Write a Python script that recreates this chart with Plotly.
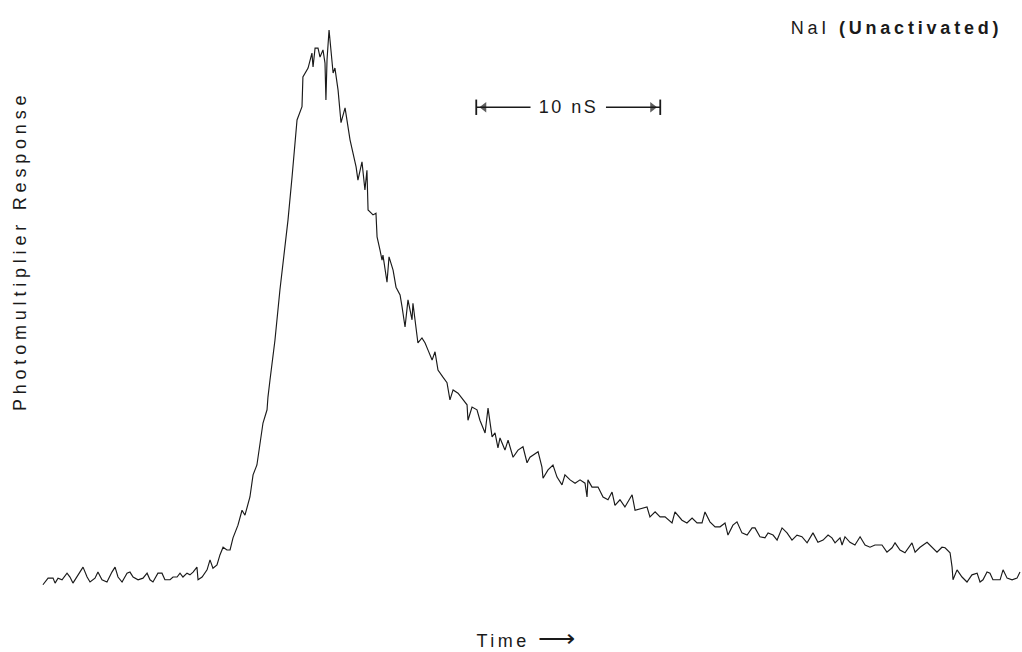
import plotly.graph_objects as go

# Scintillation pulse of unactivated NaI recorded on a photomultiplier
# time in ns, response in arbitrary units (peak = 100)
time_ns = [
    0.05, 0.33, 0.60, 0.71, 0.87, 1.09, 1.36, 1.52, 1.68, 1.96,
    2.23, 2.45, 2.61, 2.88, 3.04, 3.26, 3.53, 3.80, 3.97, 4.13,
    4.35, 4.62, 4.78, 4.95, 5.22, 5.49, 5.71, 5.87, 6.03, 6.30,
    6.52, 6.68, 6.96, 7.12, 7.34, 7.50, 7.66, 7.88, 8.04, 8.21,
    8.42, 8.48, 8.70, 8.97, 9.13, 9.29, 9.51, 9.67, 9.84, 10.05,
    10.22, 10.38, 10.65, 10.87, 11.03, 11.30, 11.47, 11.68, 11.85, 12.01,
    12.23, 12.28, 12.39, 12.66, 12.93, 13.15, 13.37, 13.59, 13.86, 14.13,
    14.18, 14.46, 14.67, 14.73, 14.84, 15.00, 15.11, 15.27, 15.38, 15.43,
    15.49, 15.60, 15.76, 15.82, 15.92, 16.09, 16.25, 16.47, 16.74, 16.90,
    17.07, 17.17, 17.39, 17.55, 17.66, 17.72, 17.99, 18.15, 18.21, 18.37,
    18.48, 18.53, 18.75, 18.86, 19.08, 19.24, 19.46, 19.57, 19.73, 19.89,
    20.11, 20.16, 20.33, 20.43, 20.65, 20.82, 20.98, 21.20, 21.36, 21.52,
    21.79, 22.01, 22.17, 22.34, 22.61, 22.88, 23.10, 23.15, 23.37, 23.64,
    23.80, 24.08, 24.24, 24.46, 24.62, 24.78, 24.89, 25.16, 25.33, 25.60,
    25.87, 26.14, 26.36, 26.52, 26.96, 27.17, 27.23, 27.50, 27.77, 27.99,
    28.26, 28.42, 28.70, 28.97, 29.24, 29.51, 29.62, 29.67, 29.89, 30.22,
    30.49, 30.76, 30.98, 31.14, 31.41, 31.68, 32.07, 32.23, 32.61, 32.88,
    33.04, 33.32, 33.59, 33.86, 34.24, 34.40, 34.78, 35.05, 35.33, 35.60,
    35.87, 36.03, 36.30, 36.58, 36.85, 37.12, 37.28, 37.55, 37.77, 38.04,
    38.32, 38.59, 38.75, 39.02, 39.29, 39.46, 39.73, 39.95, 40.22, 40.49,
    40.76, 41.03, 41.30, 41.58, 41.90, 42.17, 42.45, 42.72, 42.93, 43.10,
    43.37, 43.48, 43.64, 43.91, 44.18, 44.46, 44.73, 45.00, 45.27, 45.65,
    45.92, 46.20, 46.36, 46.63, 46.90, 47.28, 47.45, 47.72, 48.10, 48.37,
    48.64, 48.91, 49.08, 49.35, 49.46, 49.51, 49.73, 50.00, 50.27, 50.54,
    50.82, 50.98, 51.14, 51.36, 51.52, 51.68, 52.07, 52.23, 52.45, 52.72,
    52.99, 53.15,
]

response = [
    -0.5, 0.7, 0.7, -0.2, 0.7, 0.4, 1.6, 0.9, -0.2, 1.3,
    2.7, 0.9, 0.0, 0.7, 1.8, 0.4, 0.0, 1.8, 2.7, 0.9,
    0.0, 1.6, 1.8, 0.9, 0.4, 0.7, 1.6, 0.4, 0.0, 1.6,
    1.6, 0.4, 0.4, 0.9, 0.9, 1.6, 0.9, 1.6, 1.3, 1.8,
    2.7, 0.4, 0.9, 2.2, 4.0, 2.5, 3.1, 4.9, 6.3, 5.8,
    5.8, 8.0, 10.3, 13.0, 12.1, 15.4, 19.4, 21.2, 25.2, 28.8,
    31.2, 33.5, 36.6, 43.8, 52.9, 59.2, 65.6, 73.4, 83.7, 86.1,
    91.5, 93.1, 95.8, 93.3, 96.7, 96.7, 95.1, 96.4, 94.0, 87.3,
    94.6, 100.0, 94.0, 92.2, 93.1, 89.1, 83.2, 85.9, 80.1, 77.7,
    75.2, 72.8, 76.1, 71.0, 74.6, 67.4, 66.5, 66.8, 62.5, 60.1,
    58.3, 59.2, 54.3, 58.9, 56.5, 53.4, 52.0, 49.8, 46.2, 51.1,
    47.5, 50.5, 45.7, 43.3, 44.2, 43.3, 42.0, 40.2, 41.7, 38.4,
    37.1, 36.1, 33.0, 34.8, 34.2, 33.0, 32.1, 29.3, 31.7, 31.2,
    29.3, 27.0, 31.5, 26.3, 27.0, 24.3, 26.1, 23.9, 25.7, 22.6,
    23.9, 24.5, 21.6, 22.6, 23.6, 20.8, 18.8, 20.3, 21.2, 19.0,
    17.6, 19.4, 18.5, 17.9, 18.5, 17.9, 15.4, 18.5, 17.2, 17.2,
    15.4, 14.9, 16.3, 13.9, 14.9, 13.6, 15.8, 13.0, 13.4, 13.6,
    11.8, 12.7, 11.8, 11.8, 10.7, 12.7, 11.2, 10.7, 11.6, 10.7,
    10.7, 12.7, 10.9, 10.0, 10.0, 10.7, 8.5, 10.3, 10.9, 8.9,
    8.5, 9.8, 9.8, 8.2, 8.0, 8.9, 8.5, 7.6, 9.8, 8.9,
    7.6, 8.5, 8.2, 7.1, 8.9, 7.2, 7.6, 8.5, 8.0, 7.1,
    8.0, 6.7, 8.2, 7.2, 6.7, 8.2, 6.7, 6.3, 6.7, 6.7,
    5.4, 6.2, 7.1, 5.8, 5.3, 7.1, 5.4, 6.3, 7.2, 6.2,
    5.4, 6.3, 6.2, 5.3, 2.7, 0.4, 2.2, 0.9, 0.0, 1.3,
    1.6, 0.0, 0.4, 1.8, 1.6, 0.4, 0.4, 2.2, 0.7, 0.4,
    0.7, 1.8,
]

# 10 ns time-scale bar
scale_start_ns = 23.6
scale_len_ns = 10.0
scale_level = 86.0
scale_label = "10 nS"

x_range = [-2.283, 53.26]
y_range = [-12.68, 105.43]

ink = "#1a1a1a"
label_font = "Liberation Sans, Arial, sans-serif"

fig = go.Figure()

fig.add_trace(go.Scatter(
    x=time_ns, y=response, mode="lines",
    line=dict(color=ink, width=1.15),
    hoverinfo="skip", showlegend=False,
))

scale_end = scale_start_ns + scale_len_ns
scale_mid = scale_start_ns + scale_len_ns / 2
gap = 2.05

# bar line segments on either side of the label
fig.add_trace(go.Scatter(
    x=[scale_start_ns, scale_mid - gap, None, scale_mid + gap, scale_end],
    y=[scale_level, scale_level, None, scale_level, scale_level],
    mode="lines", line=dict(color=ink, width=1.6),
    hoverinfo="skip", showlegend=False,
))
# end stops
fig.add_trace(go.Scatter(
    x=[scale_start_ns, scale_end], y=[scale_level, scale_level],
    mode="markers",
    marker=dict(symbol="line-ns", size=11, line=dict(color=ink, width=1.8)),
    hoverinfo="skip", showlegend=False,
))
# arrow heads
fig.add_trace(go.Scatter(
    x=[scale_start_ns + 0.42, scale_end - 0.42], y=[scale_level, scale_level],
    mode="markers",
    marker=dict(symbol=["triangle-left", "triangle-right"], size=[9, 9],
                color=ink, line=dict(width=0)),
    hoverinfo="skip", showlegend=False,
))

common = dict(showarrow=False, xanchor="center", yanchor="middle", align="center")

fig.add_annotation(
    x=scale_mid, y=scale_level, xref="x", yref="y", text=scale_label,
    font=dict(family=label_font, size=18, color=ink), **common,
)
fig.add_annotation(
    x=0.877, y=0.957, xref="paper", yref="paper",
    text="NaI <b>(Unactivated)</b>",
    font=dict(family=label_font, size=18, color=ink), **common,
)
fig.add_annotation(
    x=0.516, y=0.0215, xref="paper", yref="paper",
    text="Time <span style='font-size:26px'>\u27f6</span>",
    font=dict(family=label_font, size=18, color=ink), **common,
)
fig.add_annotation(
    x=0.02, y=0.615, xref="paper", yref="paper",
    text="Photomultiplier Response", textangle=-90,
    font=dict(family=label_font, size=18, color=ink), **common,
)

fig.update_xaxes(range=x_range, visible=False, fixedrange=True)
fig.update_yaxes(range=y_range, visible=False, fixedrange=True)
fig.update_layout(
    width=1022, height=652,
    margin=dict(l=0, r=0, t=0, b=0),
    paper_bgcolor="white", plot_bgcolor="white",
)

# widen the tracking of the typewritten-style labels
spacing_js = """
var gd = document.getElementById('{plot_id}');
var spacing = {0: 2.5, 1: 3.8, 2: 3.5, 3: 4.8};
gd.querySelectorAll('g.annotation').forEach(function (g) {
    var i = g.getAttribute('data-index');
    var t = g.querySelector('text');
    if (t && spacing[i] !== undefined) {
        t.setAttribute('letter-spacing', spacing[i] + 'px');
    }
});
"""

fig.write_html("out.html", post_script=spacing_js)
